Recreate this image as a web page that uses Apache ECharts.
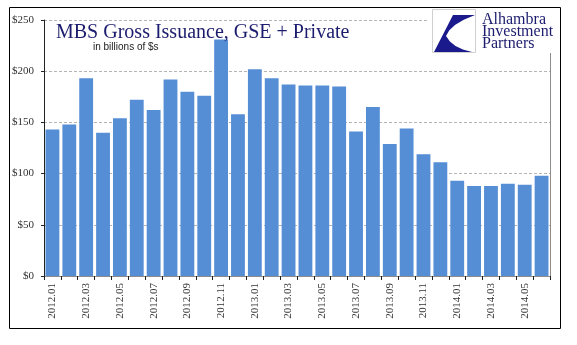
<!DOCTYPE html>
<html>
<head>
<meta charset="utf-8">
<script src="https://cdn.jsdelivr.net/npm/echarts@6/dist/echarts.min.js"></script>
<style>
html,body{margin:0;padding:0;background:#fff;}
#c{width:577px;height:345px;}
</style>
</head>
<body>
<div id="c"></div>
<script>
var categories = ['2012.01','2012.02','2012.03','2012.04','2012.05','2012.06','2012.07','2012.08','2012.09','2012.10','2012.11','2012.12',
  '2013.01','2013.02','2013.03','2013.04','2013.05','2013.06','2013.07','2013.08','2013.09','2013.10','2013.11','2013.12',
  '2014.01','2014.02','2014.03','2014.04','2014.05','2014.06'];
var issuance = [143,148,193,140,154,172,162,192,180,176,231,158,
  202,193,187,186,186,185,141,165,129,144,119,111,
  93,88,88,90,89,98];
var yTicks = [0,50,100,150,200,250];

var chart = echarts.init(document.getElementById('c'), null, {renderer:'canvas'});
var serif = '"Liberation Serif","Times New Roman",serif';
chart.setOption({
  animation: false,
  backgroundColor: '#fff',
  title: [
    {text: 'MBS Gross Issuance, GSE + Private', left: 51, top: 18, z: 10,
     textStyle: {fontFamily: serif, fontSize: 20, fontWeight: 'normal', color: '#1c1c6e'}},
    {text: 'in billions of $s', left: 88, top: 37, z: 10,
     textStyle: {fontFamily: '"Liberation Sans",Arial,sans-serif', fontSize: 10, fontWeight: 'normal', color: '#222'}}
  ],
  grid: {left: 44, right: 27, top: 20, bottom: 69, containLabel: false},
  xAxis: [{
    type: 'category', data: categories,
    axisLine: {lineStyle: {color: '#222', width: 1}},
    axisTick: {show: true, interval: 0, length: 4, lineStyle: {color: '#222'}},
    axisLabel: {interval: 1, rotate: 90, margin: 7, fontFamily: serif, fontSize: 11, color: '#333'}
  }, {
    type: 'category', data: categories, position: 'top',
    axisLine: {lineStyle: {color: '#8c8c8c', width: 1}},
    axisTick: {show: false}, axisLabel: {show: false}
  }],
  yAxis: [{
    type: 'value', min: yTicks[0], max: yTicks[yTicks.length-1], interval: 50,
    axisLine: {show: true, lineStyle: {color: '#222'}},
    axisTick: {show: true, length: 3, lineStyle: {color: '#222'}},
    axisLabel: {margin: 10, fontFamily: serif, fontSize: 11, color: '#333',
      formatter: function(v){ return '$' + v; }},
    splitLine: {show: true, lineStyle: {color: '#b4b4b4', type: [3,2], width: 1}}
  }, {
    type: 'value', min: yTicks[0], max: yTicks[yTicks.length-1], interval: 50, position: 'right',
    axisLine: {show: true, lineStyle: {color: '#8c8c8c'}},
    axisTick: {show: false}, axisLabel: {show: false}, splitLine: {show: false}
  }],
  series: [{
    type: 'bar', data: issuance, barCategoryGap: '18%',
    itemStyle: {color: '#558ed5'}
  }],
  graphic: [
    {type: 'rect', shape: {x: 428, y: 8, width: 133, height: 45}, style: {fill: '#fff'}, z: 100},
    {type: 'rect', shape: {x: 432.5, y: 9.5, width: 43, height: 43}, style: {fill: '#fff', stroke: '#d0d0d0', lineWidth: 1}, z: 101},
    {type: 'polygon', shape: {points: [[453,15],[475,15],[463.8,19.7],[455.3,24.8],[449.3,30.2],[446,36],[449.9,41.5],[455.5,46],[462.9,49.5],[472,52],[434,52]]},
     style: {fill: '#1a1a8c'}, z: 102},
    {type: 'text', x: 482, y: 12, style: {text: 'Alhambra', fontFamily: serif, fontSize: 16, fill: '#1c1c6e'}, z: 103},
    {type: 'text', x: 482, y: 24, style: {text: 'Investment', fontFamily: serif, fontSize: 16, fill: '#1c1c6e'}, z: 103},
    {type: 'text', x: 482, y: 36, style: {text: 'Partners', fontFamily: serif, fontSize: 16, fill: '#1c1c6e'}, z: 103},
    {type: 'rect', shape: {x: 9.5, y: 7.5, width: 551, height: 321}, style: {fill: 'none', stroke: '#000', lineWidth: 1}, z: 104}
  ]
});
</script>
</body>
</html>
